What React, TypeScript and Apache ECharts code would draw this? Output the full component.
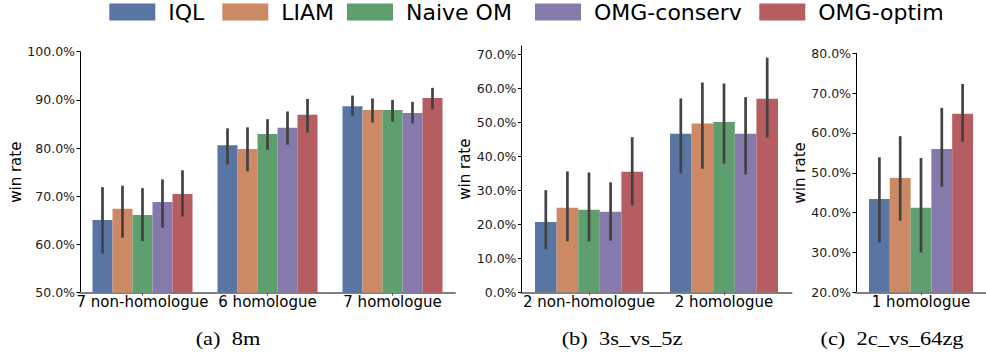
import React, { useEffect, useRef } from "react";
import * as echarts from "echarts";

const SERIES = ["IQL", "LIAM", "Naive OM", "OMG-conserv", "OMG-optim"];
const COLORS = ["#5975a4", "#cc8963", "#5f9e6e", "#857aab", "#b55d60"];

// (a) 8m
const cats8m = ["7 non-homologue", "6 homologue", "7 homologue"];
const mean8m = [
  [65.1, 80.6, 88.7],
  [67.4, 79.8, 87.9],
  [66.1, 82.9, 87.9],
  [68.8, 84.2, 87.3],
  [70.5, 86.9, 90.4],
];
const lo8m = [
  [58.1, 76.6, 86.7],
  [61.4, 75.2, 85.3],
  [60.7, 79.6, 85.5],
  [63.5, 80.7, 85.1],
  [65.8, 83.2, 88.0],
];
const hi8m = [
  [71.9, 84.1, 90.9],
  [72.2, 84.3, 90.3],
  [71.7, 86.0, 90.0],
  [73.5, 87.6, 89.6],
  [75.4, 90.2, 92.5],
];

// (b) 3s_vs_5z
const cats3s = ["2 non-homologue", "2 homologue"];
const mean3s = [
  [20.7, 46.7],
  [24.9, 49.7],
  [24.3, 50.2],
  [23.7, 46.7],
  [35.5, 57.0],
];
const lo3s = [
  [12.7, 35.0],
  [15.0, 36.4],
  [15.0, 37.9],
  [15.2, 34.7],
  [25.6, 45.6],
];
const hi3s = [
  [30.1, 57.1],
  [35.6, 61.8],
  [35.3, 61.5],
  [32.4, 57.5],
  [45.7, 69.1],
];

// (c) 2c_vs_64zg
const cats2c = ["1 homologue"];
const mean2c = [[43.4], [48.7], [41.2], [56.0], [64.8]];
const lo2c = [[32.5], [38.0], [30.0], [46.5], [57.8]];
const hi2c = [[53.9], [59.2], [53.7], [66.3], [72.3]];

const ticks8m = [50, 60, 70, 80, 90, 100];
const ticks3s = [0, 10, 20, 30, 40, 50, 60, 70];
const ticks2c = [20, 30, 40, 50, 60, 70, 80];

const CAPTIONS = ["(a)  8m", "(b)  3s_vs_5z", "(c)  2c_vs_64zg"];

export default function App() {
  const ref = useRef<HTMLDivElement>(null);

  useEffect(() => {
    if (!ref.current) return;
    const chart = echarts.init(ref.current, undefined, { renderer: "svg" });

    const panels = [
      { cats: cats8m, mean: mean8m, lo: lo8m, hi: hi8m, ticks: ticks8m, min: 50, max: 100,
        grid: { left: 80, top: 51.7, width: 375, height: 241 }, nameGap: 52, capX: 228 },
      { cats: cats3s, mean: mean3s, lo: lo3s, hi: hi3s, ticks: ticks3s, min: 0, max: 72.55,
        grid: { left: 521.5, top: 46, width: 270, height: 246.3 }, nameGap: 48, capX: 622 },
      { cats: cats2c, mean: mean2c, lo: lo2c, hi: hi2c, ticks: ticks2c, min: 20, max: 80,
        grid: { left: 856, top: 53.3, width: 134.6, height: 239 }, nameGap: 47, capX: 892 },
    ];

    const font = "DejaVu Sans";
    const grids: any[] = [];
    const xAxes: any[] = [];
    const yAxes: any[] = [];
    const series: any[] = [];

    panels.forEach((p, pi) => {
      grids.push({ ...p.grid, containLabel: false });
      xAxes.push({
        type: "category",
        gridIndex: pi,
        data: p.cats,
        axisLine: { show: true, lineStyle: { color: "#808080", width: 2 } },
        axisTick: { show: true, alignWithLabel: true, length: 3, lineStyle: { color: "#555" } },
        axisLabel: { interval: 0, fontSize: 15, fontFamily: font, color: "#000", margin: 2 },
        splitLine: { show: false },
      });
      yAxes.push({
        type: "value",
        gridIndex: pi,
        min: p.min,
        max: p.max,
        name: "win rate",
        nameLocation: "middle",
        nameGap: p.nameGap,
        nameTextStyle: { fontSize: 15, fontFamily: font, color: "#000" },
        axisLine: { show: true, lineStyle: { color: "#000", width: 1 } },
        axisTick: { show: true, length: 3.5, customValues: p.ticks, lineStyle: { color: "#000" } },
        axisLabel: {
          customValues: p.ticks,
          fontSize: 12.5,
          fontFamily: font,
          color: "#1a1a1a",
          margin: 5,
          formatter: (v: number) => v.toFixed(1) + "%",
        },
        splitLine: { show: false },
      });
      SERIES.forEach((name, si) => {
        series.push({
          type: "bar",
          name,
          xAxisIndex: pi,
          yAxisIndex: pi,
          data: p.mean[si],
          barGap: "0%",
          barCategoryGap: "20%",
          itemStyle: { color: COLORS[si] },
        });
      });
      const errData: number[][] = [];
      SERIES.forEach((_, si) => {
        p.cats.forEach((_c, ci) => {
          errData.push([ci, si, p.lo[si][ci], p.hi[si][ci]]);
        });
      });
      series.push({
        type: "custom",
        name: "err" + pi,
        xAxisIndex: pi,
        yAxisIndex: pi,
        data: errData,
        encode: { x: 0, y: 2 },
        z: 10,
        clip: false,
        renderItem: (params: any, api: any) => {
          const ci = api.value(0);
          const si = api.value(1);
          const a = api.coord([ci, api.value(2)]);
          const b = api.coord([ci, api.value(3)]);
          const band = api.size([1, 0])[0];
          const bw = (band * 0.8) / 5;
          const x = a[0] + (si - 2) * bw;
          return {
            type: "line",
            shape: { x1: x, y1: a[1], x2: x, y2: b[1] },
            style: { stroke: "#424242", lineWidth: 2.7 },
          };
        },
      });
    });

    const legendLefts = [109.3, 222.3, 347, 535, 759.3];
    const legends = SERIES.map((name, i) => ({
      show: true,
      left: legendLefts[i],
      top: 1,
      padding: 0,
      itemWidth: 46,
      itemHeight: 17,
      icon: "rect",
      data: [name],
      textStyle: { fontSize: 22, fontFamily: font, color: "#000", padding: [0, 0, 0, 8] },
    }));

    const graphics = panels.map((p, i) => ({
      type: "text",
      x: p.capX,
      y: 338,
      scaleX: 1.18,
      style: {
        text: CAPTIONS[i],
        fontFamily: "Liberation Serif",
        fontSize: 19,
        fill: "#000",
        textAlign: "center",
        textVerticalAlign: "middle",
      },
    }));

    chart.setOption({
      animation: false,
      backgroundColor: "#fff",
      legend: legends,
      grid: grids,
      xAxis: xAxes,
      yAxis: yAxes,
      series,
      graphic: graphics,
    });

    return () => chart.dispose();
  }, []);

  return (
    <div
      ref={ref}
      style={{ position: "fixed", left: 0, top: 0, width: 986, height: 356 }}
    />
  );
}
